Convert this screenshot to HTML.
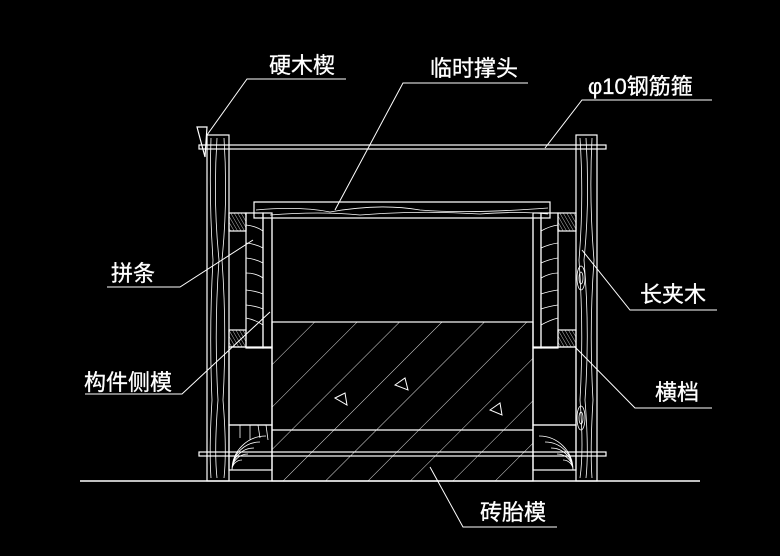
<!DOCTYPE html>
<html><head><meta charset="utf-8"><style>
html,body{margin:0;padding:0;background:#000;}
svg{display:block}
text{font-family:"Liberation Sans","Noto Sans CJK SC",sans-serif;fill:#fff;font-size:22px;stroke:#fff;stroke-width:0.3}
</style></head><body>
<svg width="780" height="556" viewBox="0 0 780 556" xmlns="http://www.w3.org/2000/svg">
<defs>
<pattern id="h1" width="30" height="30" patternUnits="userSpaceOnUse" patternTransform="rotate(45)">
<line x1="0" y1="0" x2="0" y2="30" stroke="#ddd" stroke-width="1"/></pattern>
<pattern id="h2" width="3" height="3" patternUnits="userSpaceOnUse" patternTransform="rotate(-30)">
<line x1="0" y1="0" x2="0" y2="3" stroke="#bbb" stroke-width="1"/></pattern>
</defs>
<g stroke="#fff" stroke-width="1.2" fill="none">
<line x1="80" y1="481" x2="700" y2="481" stroke-width="1.6"/>
<rect x="272" y="322" width="261" height="159" fill="url(#h1)" stroke="none"/>
<rect x="272" y="322" width="261" height="159"/>
<line x1="272" y1="430" x2="533" y2="430"/>
<path d="M335 398 L345 393 L347 405 Z M395 385 L405 378 L408 390 Z M490 410 L500 403 L502 415 Z" stroke-width="1"/>
<line x1="272" y1="218" x2="272" y2="481"/>
<line x1="533" y1="218" x2="533" y2="481"/>
<!-- temp strut -->
<path d="M254 202 L550 202 L550 218 L254 218 Z"/>
<path d="M256 210 Q300 206 330 212 Q380 203 420 210 Q470 214 548 208" stroke-width="0.8"/>
<path d="M270 215 Q320 211 360 215 Q420 210 480 214 Q520 211 548 214" stroke-width="0.8"/>
<!-- left side -->
<rect x="207" y="135" width="22" height="346"/>
<path d="M211 138 Q209 200 213 260 Q209 330 212 400 Q209 450 211 478" stroke-width="0.8"/>
<path d="M217 138 Q213 200 219 260 Q214 330 218 400 Q214 450 217 478" stroke-width="0.8"/>
<path d="M224 138 Q228 200 222 260 Q227 330 223 400 Q227 450 224 478" stroke-width="0.8"/>
<path d="M197 127 L207 127 L205 157 Z"/>
<rect x="229" y="213" width="17" height="18" fill="url(#h2)"/>
<rect x="229" y="330" width="17" height="17" fill="url(#h2)"/>
<rect x="246" y="213" width="17" height="135"/>
<path d="M246 225 Q256 226 263 231 M246 243 Q256 244 263 248 M246 258 Q256 259 263 263 M246 273 Q256 273 263 278 M246 290 Q256 291 263 294 M246 305 Q256 306 263 309 M246 318 Q256 320 263 325" stroke-width="0.8"/>
<rect x="263" y="213" width="9" height="135"/>
<rect x="229" y="347" width="43" height="78"/>
<rect x="229" y="425" width="43" height="45"/>
<path d="M232 470 A34 34 0 0 1 266 436 M232 470 A28 28 0 0 1 260 442 M232 470 A22 22 0 0 1 254 448 M232 470 A16 16 0 0 1 248 454 M232 470 A10 10 0 0 1 242 460 M240 425 L240 438 M250 425 L250 440 M258 425 L260 438 M266 425 L268 440" stroke-width="0.8"/>
<!-- right side -->
<rect x="576" y="135" width="21" height="346"/>
<path d="M580 138 Q584 200 579 260 Q584 330 580 400 Q584 450 580 478" stroke-width="0.8"/>
<path d="M586 138 Q590 200 584 260 Q590 330 585 400 Q589 450 586 478" stroke-width="0.8"/>
<path d="M592 138 Q589 200 594 260 Q589 330 593 400 Q590 450 592 478" stroke-width="0.8"/>
<ellipse cx="581" cy="278" rx="4" ry="12" stroke-width="0.8"/>
<ellipse cx="581" cy="278" rx="2" ry="6" stroke-width="0.8"/>
<ellipse cx="581" cy="418" rx="4" ry="12" stroke-width="0.8"/>
<ellipse cx="581" cy="418" rx="2" ry="6" stroke-width="0.8"/>
<rect x="558" y="213" width="18" height="18" fill="url(#h2)"/>
<rect x="558" y="330" width="18" height="17" fill="url(#h2)"/>
<rect x="541" y="213" width="17" height="135"/>
<path d="M541 231 Q550 226 558 225 M541 248 Q550 244 558 243 M541 263 Q550 259 558 258 M541 278 Q550 273 558 273 M541 294 Q550 291 558 290 M541 309 Q550 306 558 305 M541 325 Q550 320 558 318" stroke-width="0.8"/>
<rect x="533" y="213" width="8" height="135"/>
<rect x="533" y="347" width="43" height="78"/>
<rect x="533" y="425" width="43" height="45"/>
<path d="M573 470 A34 34 0 0 0 539 436 M573 470 A28 28 0 0 0 545 442 M573 470 A22 22 0 0 0 551 448 M573 470 A16 16 0 0 0 557 454 M573 470 A10 10 0 0 0 563 460" stroke-width="0.8"/>
<!-- rebar hoops -->
<rect x="199" y="145" width="407" height="4"/>
<rect x="199" y="452" width="407" height="4"/>
<g stroke-width="1">
<polyline points="207,135 247,79 346,79"/>
<polyline points="335,210 403,83 528,83"/>
<polyline points="545,148 582,100 712,100"/>
<polyline points="253,240 180,287 107,287"/>
<polyline points="270,312 182,394 85,394"/>
<polyline points="582,250 630,310 717,310"/>
<polyline points="575,347 635,408 712,408"/>
<polyline points="430,467 463,527 557,527"/>
</g>
</g>
<text x="269" y="73">硬木楔</text>
<text x="430" y="76">临时撑头</text>
<text x="588" y="94">φ10钢筋箍</text>
<text x="111" y="281">拼条</text>
<text x="84" y="390">构件侧模</text>
<text x="640" y="302">长夹木</text>
<text x="655" y="400">横档</text>
<text x="480" y="520">砖胎模</text>
</svg>
</body></html>
